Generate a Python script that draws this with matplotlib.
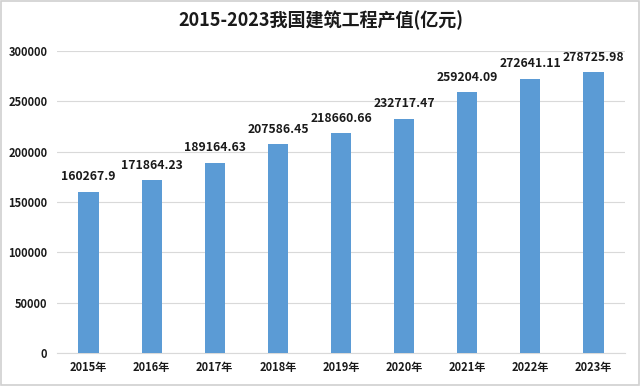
import matplotlib.pyplot as plt
from matplotlib.patches import Rectangle

plt.rcParams['font.family'] = ['Noto Sans CJK SC', 'DejaVu Sans']

years = ['2015年', '2016年', '2017年', '2018年', '2019年', '2020年', '2021年', '2022年', '2023年']
values = [160267.9, 171864.23, 189164.63, 207586.45, 218660.66, 232717.47, 259204.09, 272641.11, 278725.98]
labels = ['160267.9', '171864.23', '189164.63', '207586.45', '218660.66', '232717.47', '259204.09', '272641.11', '278725.98']
yticks = [0, 50000, 100000, 150000, 200000, 250000, 300000]

fig = plt.figure(figsize=(6.41, 3.86), dpi=100)
ax = fig.add_axes([57/641, 1-353/386, 568/641, 302/386])

x = range(len(years))
bars = ax.bar(x, values, width=0.32, color='#5B9BD5', zorder=3)
for i, v in enumerate(values):
    ax.annotate(labels[i], (i, v), xytext=(0, 6), textcoords='offset points',
                ha='center', va='bottom', fontsize=8.8, fontweight='bold', color='#1a1a1a')

ax.set_xlim(-0.5, len(years)-0.5)
ax.set_ylim(0, 300000)
ax.set_yticks(yticks)
ax.set_yticklabels([str(t) for t in yticks], fontsize=8, fontweight='bold', color='#1a1a1a')
ax.set_xticks(list(x))
ax.set_xticklabels(years, fontsize=8, fontweight='bold', color='#1a1a1a')
ax.grid(axis='y', color='#D9D9D9', linewidth=0.8, zorder=0)
for s in ['top', 'right', 'left']:
    ax.spines[s].set_visible(False)
ax.spines['bottom'].set_color('#D9D9D9')
ax.tick_params(length=0, pad=6)
ax.tick_params(axis='y', pad=7)

fig.text(0.5, 1-20/386, '2015-2023我国建筑工程产值(亿元)', ha='center', va='center',
         fontsize=13, fontweight='bold', color='#1a1a1a')

fig.patches.append(Rectangle((0.002, 0.003), 0.995, 0.994, transform=fig.transFigure,
                             fill=False, edgecolor='#D0D0D0', linewidth=1.2))

fig.savefig('out.png', dpi=100)
